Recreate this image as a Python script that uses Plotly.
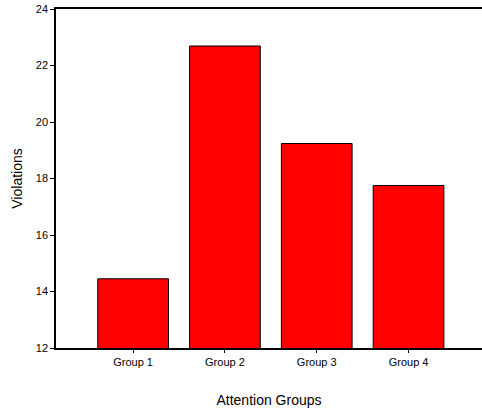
import plotly.graph_objects as go

categories = ["Group 1", "Group 2", "Group 3", "Group 4"]
violations = [14.45, 22.69, 19.24, 17.75]
y_ticks = [12, 14, 16, 18, 20, 22, 24]

fig = go.Figure()
fig.add_trace(go.Bar(
    x=categories, y=violations,
    marker=dict(color="#ff0000", line=dict(color="black", width=1)),
    width=0.77,
))
fig.update_layout(
    width=482, height=411,
    margin=dict(l=56, r=0, t=9, b=63),
    plot_bgcolor="white", paper_bgcolor="white",
    font=dict(family="Liberation Sans, Arial, sans-serif", color="black"),
    showlegend=False,
)
fig.update_xaxes(
    range=[-0.84, 3.8], showgrid=False, showline=True, linecolor="black", linewidth=1.5,
    mirror=True, ticks="outside", ticklen=3, tickcolor="black",
    tickfont=dict(size=11),
    title=dict(text="Attention Groups", font=dict(size=14), standoff=28),
)
fig.update_yaxes(
    range=[12, 24], tickvals=y_ticks, showgrid=False, showline=True, linecolor="black", linewidth=1.5,
    ticks="outside", ticklen=4, tickcolor="black", zeroline=False,
    tickfont=dict(size=11),
    title=dict(text="Violations", font=dict(size=14), standoff=10),
)
fig.write_html(
    "out.html",
    config={"displayModeBar": False},
    post_script="document.body.style.margin='0';document.body.style.overflow='hidden';",
)
